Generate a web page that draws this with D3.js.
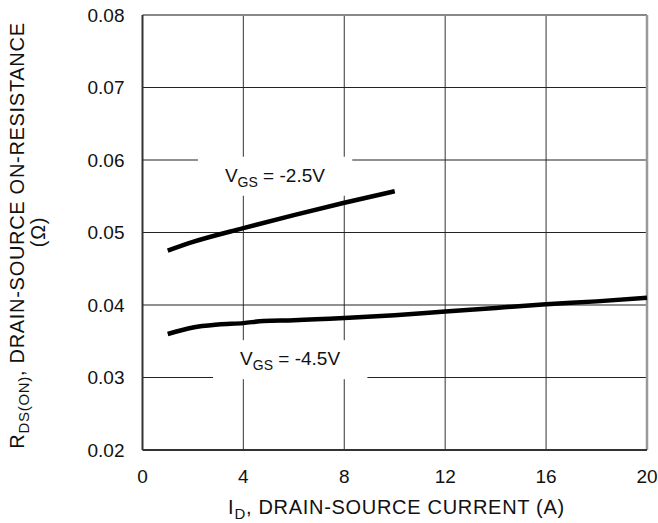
<!DOCTYPE html>
<meta charset="utf-8">
<style>
body { margin: 0; background: #fff; }
text { font-family: "Liberation Sans", Arial, sans-serif; fill: #111; }
.grid line { stroke: #444; stroke-width: 1.2; }
.title { font-size: 20px; letter-spacing: 0.7px; }
</style>
<svg width="658" height="523"></svg>
<script src="https://cdn.jsdelivr.net/npm/d3@7"></script>
<script>

// values
var xTicks = [0, 4, 8, 12, 16, 20];
var yTicks = [0.02, 0.03, 0.04, 0.05, 0.06, 0.07, 0.08];

var id25 = [1, 2, 4, 6, 8, 10];
var rds25 = [0.0475, 0.0487, 0.0506, 0.0524, 0.0541, 0.0557];

var id45 = [1, 2, 3, 4, 4.8, 6, 8, 10, 12, 14, 16, 18, 20];
var rds45 = [0.0360, 0.0369, 0.0373, 0.0375, 0.0378, 0.0379, 0.0382, 0.0386, 0.0391, 0.0396, 0.0401, 0.0405, 0.0410];

var svg = d3.select("svg");
var margin = {top: 15, right: 11, bottom: 73, left: 142.5},
    width = 658 - margin.left - margin.right,
    height = 523 - margin.top - margin.bottom;

var g = svg.append("g")
    .attr("transform", "translate(" + margin.left + "," + margin.top + ")");

var x = d3.scaleLinear().domain([0, 20]).range([0, width]);
var y = d3.scaleLinear().domain([0.02, 0.08]).range([height, 0]);

// grid
var grid = g.append("g").attr("class", "grid");
grid.selectAll(".vx").data(xTicks.slice(1, -1)).enter().append("line")
    .attr("x1", d => x(d)).attr("x2", d => x(d))
    .attr("y1", 0).attr("y2", height)
    .style("stroke", "#555");
grid.selectAll(".hy").data(yTicks.slice(1, -1)).enter().append("line")
    .attr("x1", 0).attr("x2", width)
    .attr("y1", d => y(d)).attr("y2", d => y(d))
    .style("stroke", "#222");

// frame
g.append("line").attr("x1", 0).attr("x2", width).attr("y1", 0).attr("y2", 0)
    .style("stroke", "#888").style("stroke-width", 2);
g.append("line").attr("x1", width).attr("x2", width).attr("y1", 0).attr("y2", height)
    .style("stroke", "#999").style("stroke-width", 2.5);
g.append("line").attr("x1", 0).attr("x2", 0).attr("y1", 0).attr("y2", height)
    .style("stroke", "#333").style("stroke-width", 2);
g.append("line").attr("x1", 0).attr("x2", width).attr("y1", height).attr("y2", height)
    .style("stroke", "#333").style("stroke-width", 2);

// tick labels
g.selectAll(".xt").data(xTicks).enter().append("text")
    .attr("x", d => x(d)).attr("y", height + 33)
    .attr("text-anchor", "middle")
    .style("font-size", "19px")
    .text(d => d);
g.selectAll(".yt").data(yTicks).enter().append("text")
    .attr("x", -18).attr("y", d => y(d))
    .attr("dy", "0.35em")
    .attr("text-anchor", "end")
    .style("font-size", "19px")
    .text(d => d.toFixed(2));

// curve labels with white boxes that break the grid
function label(cx, cy, main, sub, rest) {
  var lg = g.append("g");
  var rect = lg.append("rect").attr("fill", "#fff");
  var t = lg.append("text")
      .attr("x", x(cx)).attr("y", y(cy))
      .attr("text-anchor", "middle")
      .style("font-size", "19px");
  t.append("tspan").text(main);
  t.append("tspan").attr("dy", 5).style("font-size", "14px").text(sub);
  t.append("tspan").attr("dy", -5).text(rest);
  var b = t.node().getBBox();
  rect.attr("x", b.x - 27).attr("y", b.y - 8)
      .attr("width", b.width + 54).attr("height", b.height + 14);
}
label(5.25, 0.0570, "V", "GS", " = -2.5V");
label(5.85, 0.0317, "V", "GS", " = -4.5V");

// curves
var line = d3.line()
    .x(d => x(d[0])).y(d => y(d[1]))
    .curve(d3.curveMonotoneX);

g.append("path")
    .datum(d3.zip(id25, rds25))
    .attr("d", line)
    .attr("fill", "none").attr("stroke", "#000").attr("stroke-width", 4.5);
g.append("path")
    .datum(d3.zip(id45, rds45))
    .attr("d", line)
    .attr("fill", "none").attr("stroke", "#000").attr("stroke-width", 4.5);

// axis titles
var xt = svg.append("text")
    .attr("class", "title")
    .attr("x", 396.5).attr("y", 514)
    .attr("text-anchor", "middle");
xt.append("tspan").text("I");
xt.append("tspan").attr("dy", 5).style("font-size", "15px").text("D");
xt.append("tspan").attr("dy", -5).text(", DRAIN-SOURCE CURRENT (A)");

var yt = svg.append("text")
    .attr("class", "title")
    .attr("transform", "translate(24,235.5) rotate(-90)")
    .attr("text-anchor", "middle");
yt.append("tspan").text("R");
yt.append("tspan").attr("dy", 5).style("font-size", "15px").text("DS(ON)");
yt.append("tspan").attr("dy", -5).text(", DRAIN-SOURCE ON-RESISTANCE");

svg.append("text")
    .attr("class", "title")
    .attr("transform", "translate(45,232) rotate(-90)")
    .attr("text-anchor", "middle")
    .text("(Ω)");

</script>
